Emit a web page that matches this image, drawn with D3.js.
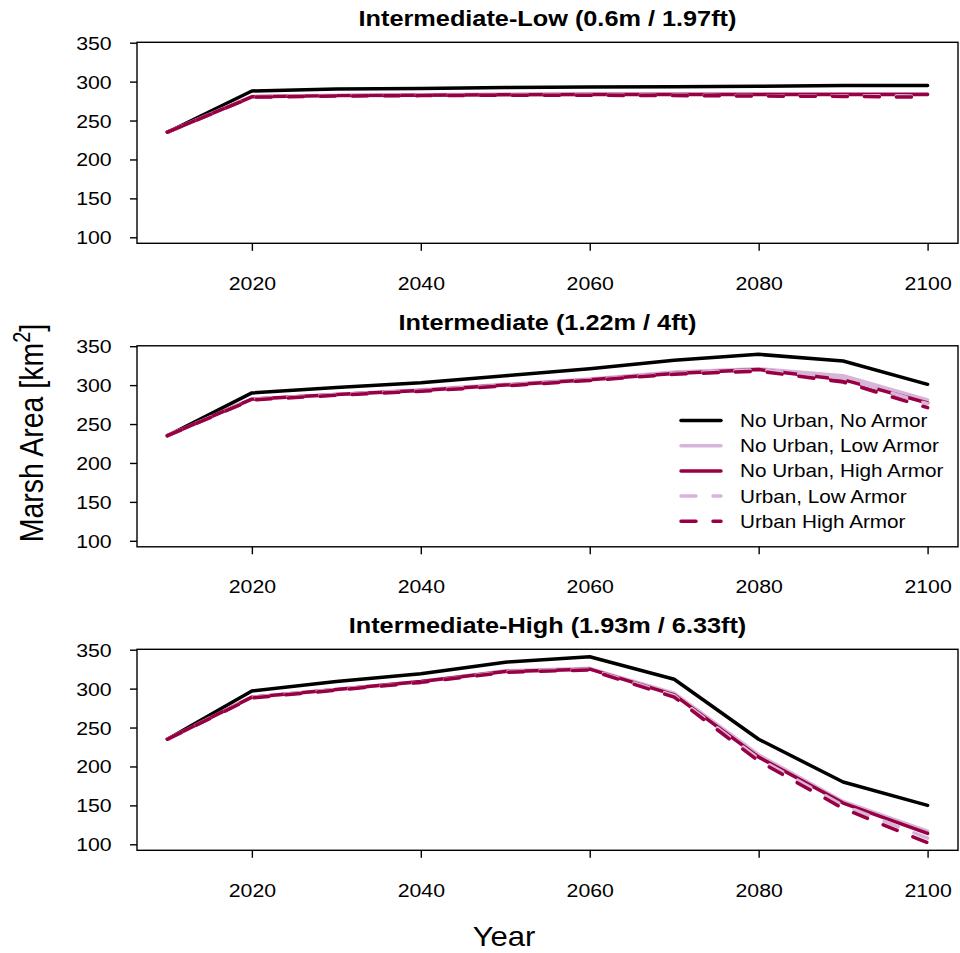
<!DOCTYPE html>
<html lang="en">
<head>
  <meta charset="utf-8" />
  <title>Marsh Area by Sea Level Scenario</title>
  <script src="https://d3js.org/d3.v7.min.js"></script>
  <style>
    body { margin: 0; background: #fff; }
    svg { display: block; font-family: "Liberation Sans", Arial, sans-serif; }
  </style>
</head>
<body>
  <svg id="chart" width="960" height="953"></svg>
  <script>
    // data
    const years = [2010, 2020, 2030, 2040, 2050, 2060, 2070, 2080, 2090, 2100];
    const yTicks = [100, 150, 200, 250, 300, 350];
    const xTicks = [2020, 2040, 2060, 2080, 2100];
    const titles = [
      "Intermediate-Low (0.6m / 1.97ft)",
      "Intermediate (1.22m / 4ft)",
      "Intermediate-High (1.93m / 6.33ft)"
    ];
    const seriesNames = [
      "No Urban, No Armor",
      "No Urban, Low Armor",
      "No Urban, High Armor",
      "Urban, Low Armor",
      "Urban High Armor"
    ];
    const seriesColors = ["#000000", "#d7b5d8", "#980043", "#d7b5d8", "#980043"];
    const seriesDashed = [false, false, false, true, true];

    // one row per series, same order as seriesNames
    const intLow = [
      [235, 288, 290.5, 291, 292.5, 293, 293.5, 294, 295, 295],
      [235, 281, 282.5, 283, 284, 284, 284, 284, 284.5, 284.5],
      [235, 280.5, 282, 282.5, 283, 283.5, 283.5, 283.5, 283.5, 283.5],
      [235, 280.5, 282, 282.5, 283, 283, 282.5, 282, 282, 281.5],
      [235, 280, 281.5, 282, 282.5, 282.5, 282, 281.5, 281, 280]
    ];
    const intMid = [
      [235, 290, 297, 303, 312, 321, 332, 339.5, 331, 301],
      [235, 282, 288, 294, 301, 308, 317, 321, 312, 281],
      [235, 282, 288, 293, 300, 307, 315, 320, 307, 277],
      [235, 282, 288, 293, 300, 307, 315, 320, 309, 276],
      [235, 281, 287, 292, 299, 306, 314, 318, 304, 271]
    ];
    const intHigh = [
      [235, 297, 309, 319, 334, 341, 312, 235, 180, 150],
      [235, 289, 299, 309, 323, 326, 294, 215, 155, 117],
      [235, 289, 299, 309, 322, 325, 292, 212, 153, 114],
      [235, 289, 299, 308, 322, 325, 291, 210, 150, 108],
      [235, 288, 298, 308, 321, 324, 289, 207, 146, 102]
    ];
    const panelData = [intLow, intMid, intHigh];

    const svg = d3.select("#chart");
    const left = 137, right = 958, boxH = 201;
    const panelTops = [42.3, 345.8, 649.3];
    const sx = 1.15; // the text in the figure is a little wider than it is tall

    const x = d3.scaleLinear().domain([2006.4, 2103.6]).range([left, right]);

    panelData.forEach((rows, p) => {
      const top = panelTops[p];
      const y = d3.scaleLinear().domain([92.3, 350.5]).range([top + boxH, top]);
      const g = svg.append("g");

      // title
      g.append("text")
        .attr("transform", `translate(${(left + right) / 2},${top - 16}) scale(${sx},1)`)
        .attr("text-anchor", "middle")
        .attr("font-size", "22px")
        .attr("font-weight", "bold")
        .text(titles[p]);

      // y axis
      const yAxis = g.append("g")
        .attr("transform", `translate(${left},0)`)
        .call(d3.axisLeft(y).tickValues(yTicks).tickSize(7).tickSizeOuter(0));
      yAxis.select(".domain").remove();
      yAxis.selectAll(".tick line").attr("stroke-width", 1.4);
      yAxis.selectAll("text")
        .attr("x", 0).attr("dy", "0.35em")
        .attr("transform", `translate(-25.3,0) scale(${sx},1)`)
        .attr("font-size", "18.5px").attr("fill", "#000")
        .attr("font-family", "Liberation Sans, Arial, sans-serif");

      // x axis
      const xAxis = g.append("g")
        .attr("transform", `translate(0,${top + boxH})`)
        .call(d3.axisBottom(x).tickValues(xTicks).tickSize(7.5).tickSizeOuter(0).tickFormat(d3.format("d")));
      xAxis.select(".domain").remove();
      xAxis.selectAll(".tick line").attr("stroke-width", 1.4);
      xAxis.selectAll("text")
        .attr("y", 0).attr("dy", "0")
        .attr("transform", `translate(0,46.5) scale(${sx},1)`)
        .attr("font-size", "18.5px").attr("fill", "#000")
        .attr("font-family", "Liberation Sans, Arial, sans-serif");

      // box
      g.append("rect")
        .attr("x", left).attr("y", top)
        .attr("width", right - left).attr("height", boxH)
        .attr("fill", "none").attr("stroke", "#000").attr("stroke-width", 1.4);

      // lines
      const line = d3.line().x((d, i) => x(years[i])).y(d => y(d));
      rows.forEach((vals, s) => {
        g.append("path")
          .datum(vals)
          .attr("d", line)
          .attr("fill", "none")
          .attr("stroke", seriesColors[s])
          .attr("stroke-width", 3.5)
          .attr("stroke-linecap", "round")
          .attr("stroke-linejoin", "round")
          .attr("stroke-dasharray", seriesDashed[s] ? "15,17" : null);
      });

      // legend in the middle panel
      if (p === 1) {
        const lg = g.append("g");
        seriesNames.forEach((name, s) => {
          const ly = 420.5 + s * 25.2;
          lg.append("line")
            .attr("x1", 681).attr("x2", 721)
            .attr("y1", ly).attr("y2", ly)
            .attr("stroke", seriesColors[s])
            .attr("stroke-width", 3.5)
            .attr("stroke-linecap", "round")
            .attr("stroke-dasharray", seriesDashed[s] ? "15,17" : null);
          lg.append("text")
            .attr("transform", `translate(740,${ly + 6.4}) scale(${sx},1)`)
            .attr("font-size", "18px")
            .text(name);
        });
      }
    });

    // shared axis titles
    const yl = svg.append("text")
      .attr("transform", `translate(43,433) rotate(-90) scale(1,${sx})`)
      .attr("text-anchor", "middle")
      .attr("font-size", "28.5px");
    yl.append("tspan").text("Marsh Area [km");
    yl.append("tspan").attr("baseline-shift", "super").attr("font-size", "20px").text("2");
    yl.append("tspan").text("]");

    svg.append("text")
      .attr("transform", `translate(504,946) scale(${sx},1)`)
      .attr("text-anchor", "middle")
      .attr("font-size", "27px")
      .text("Year");
  </script>
</body>
</html>
